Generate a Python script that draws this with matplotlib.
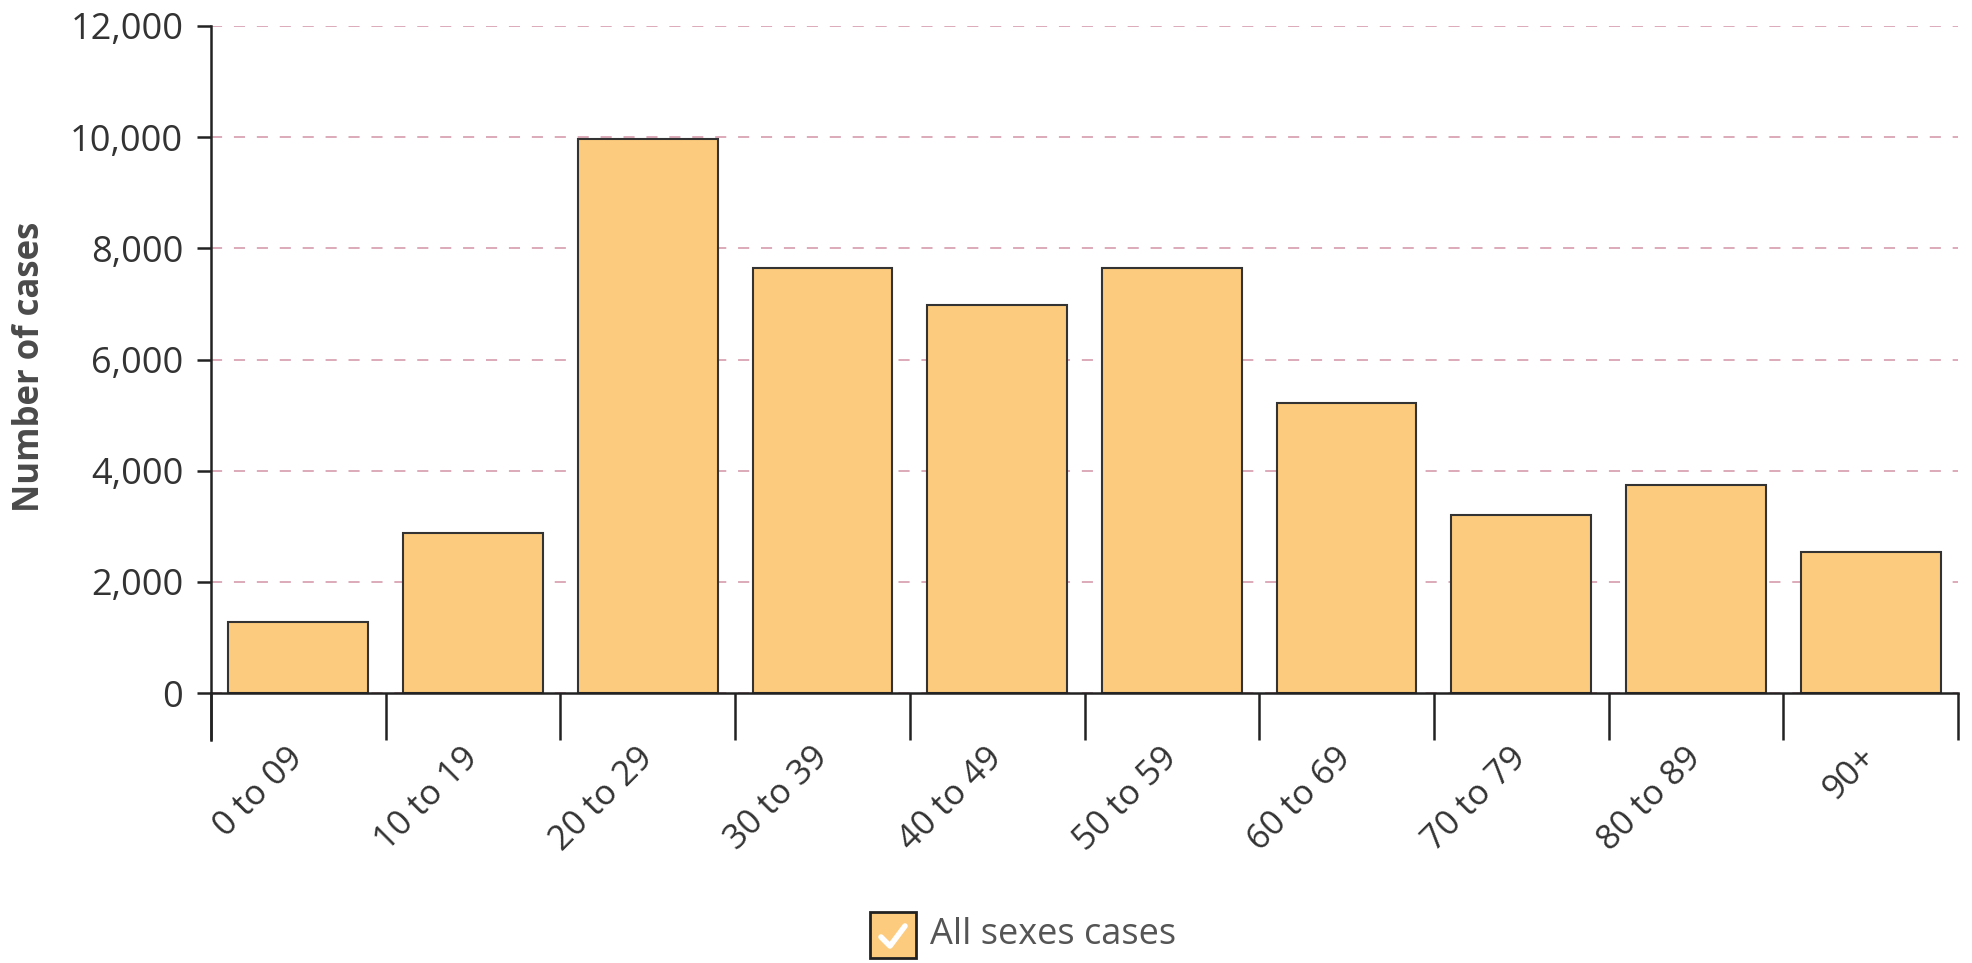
import matplotlib
matplotlib.use("Agg")
import matplotlib.pyplot as plt
from matplotlib.patches import Rectangle
from matplotlib.lines import Line2D
import numpy as np

plt.rcParams["font.family"] = ["Open Sans", "DejaVu Sans"]
plt.rcParams["lines.scale_dashes"] = False

age_groups = ["0 to 09", "10 to 19", "20 to 29", "30 to 39", "40 to 49",
              "50 to 59", "60 to 69", "70 to 79", "80 to 89", "90+"]
cases = [1280, 2880, 9970, 7650, 6980, 7650, 5210, 3195, 3735, 2540]
y_ticks = [0, 2000, 4000, 6000, 8000, 10000, 12000]
legend_label = "All sexes cases"

bar_color = "#fdcb7d"
edge_color = "#333333"
axis_color = "#222222"
text_color = "#333333"

W, H = 1972, 963
fig = plt.figure(figsize=(W / 100, H / 100), dpi=100)
ax = fig.add_axes([211 / W, 1 - 740 / H, (1958 - 211) / W, (740 - 26) / H])

x = np.arange(len(age_groups))
ax.bar(x, cases, width=0.8, color=bar_color, edgecolor=edge_color,
       linewidth=1.5, zorder=2)

ax.set_xlim(-0.5, len(age_groups) - 0.5)
ax.set_ylim(-845, 12000)

# grid
ax.set_yticks(y_ticks)
ax.set_yticklabels([f"{v:,}" for v in y_ticks])
ax.yaxis.grid(True, color="#dcaab9", linewidth=1.4, dashes=(8, 8.5), zorder=0)
ax.set_axisbelow(True)

# spines
for s in ["top", "right"]:
    ax.spines[s].set_visible(False)
ax.spines["bottom"].set_position(("data", 0))
ax.spines["bottom"].set_color(axis_color)
ax.spines["bottom"].set_linewidth(1.8)
ax.spines["bottom"].set_zorder(3)
ax.spines["left"].set_color(axis_color)
ax.spines["left"].set_linewidth(1.8)

ax.tick_params(axis="y", length=10, width=1.8, color=axis_color,
               labelsize=26, labelcolor=text_color, pad=10)

# category ticks at band boundaries, labels at band centres
ax.set_xticks(x)
ax.set_xticks(np.arange(len(age_groups) + 1) - 0.5, minor=True)
ax.tick_params(axis="x", which="minor", length=34, width=1.8, color=axis_color,
               direction="out")
ax.tick_params(axis="x", which="major", length=0, labelsize=25,
               labelcolor=text_color, pad=43)
ax.set_xticklabels(age_groups, rotation=45, ha="right", va="center",
                   rotation_mode="anchor")

# y label
fig.text(30 / W, 1 - 367 / H, "Number of cases", rotation=90, ha="center",
         va="center", fontsize=25, fontweight="bold", color="#4a4a4a")

# legend with checkbox
bx, by, bs = 870, 912, 46
fig.add_artist(Rectangle((bx / W, 1 - (by + bs) / H), bs / W, bs / H,
                         transform=fig.transFigure, facecolor=bar_color,
                         edgecolor="#222222", linewidth=2))
fig.add_artist(Line2D([(bx + 11) / W, (bx + 20) / W, (bx + 35) / W],
                      [1 - (by + 25) / H, 1 - (by + 34) / H, 1 - (by + 14) / H],
                      transform=fig.transFigure, color="white", linewidth=4,
                      solid_capstyle="round", solid_joinstyle="round"))
fig.text(930 / W, 1 - 935 / H, legend_label, ha="left", va="center",
         fontsize=26, color="#555555")

fig.savefig("out.png", dpi=100)
